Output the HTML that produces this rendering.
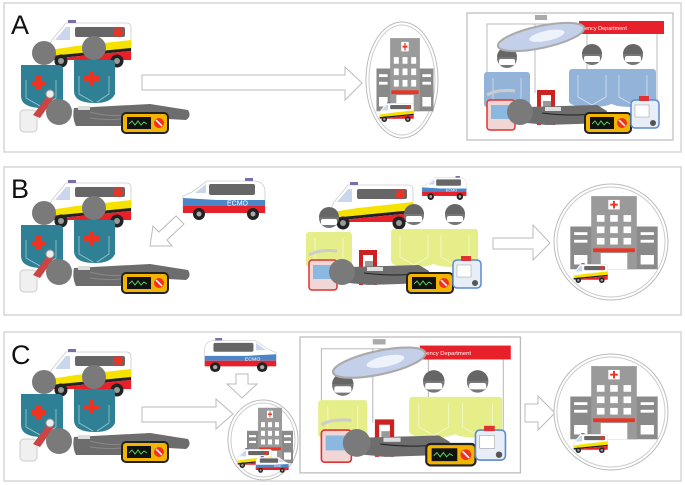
<!DOCTYPE html>
<html><head><meta charset="utf-8"><style>
html,body{margin:0;padding:0;background:#fff;}
svg{display:block;font-family:"Liberation Sans",sans-serif;}
</style></head><body>
<svg width="685" height="485" viewBox="0 0 685 485" xmlns="http://www.w3.org/2000/svg">
<defs>
  <g id="amb">
    <path d="M6 20 L20 3 L80 3 Q85 3 85 8 L85 38 L4 38 L4 24 Z" fill="#fff" stroke="#ccc" stroke-width="0.8"/>
    <path d="M9 20 L20 7 L24 7 L24 20 Z" fill="#c9d6ec"/>
    <rect x="29" y="7" width="50" height="10" rx="2" fill="#666"/>
    <rect x="22" y="0" width="8" height="3" fill="#7b6fa8"/>
    <g stroke="#e32" stroke-width="2"><line x1="72" y1="7" x2="72" y2="17"/><line x1="67" y1="12" x2="77" y2="12"/><line x1="68" y1="8" x2="76" y2="16"/><line x1="76" y1="8" x2="68" y2="16"/></g>
    <path d="M4 30 L30 26 L85 20 L85 28 L4 36 Z" fill="#f6e200"/>
    <path d="M4 36 L85 28 L85 31 L4 39 Z" fill="#222"/>
    <path d="M4 39 L85 31 L85 40 L4 40 Z" fill="#e8202a"/>
    <circle cx="15" cy="41" r="6.5" fill="#222"/><circle cx="15" cy="41" r="3" fill="#999"/>
    <circle cx="71" cy="41" r="6.5" fill="#222"/><circle cx="71" cy="41" r="3" fill="#999"/>
  </g>
  <g id="ecmobody">
    <path d="M2 14 Q2 4 12 3 L60 3 L75 14 L84 18 L84 34 L2 34 Z" fill="#fff" stroke="#ccc" stroke-width="0.8"/>
    <rect x="12" y="6" width="46" height="11" rx="2" fill="#666"/>
    <path d="M61 6 L72 15 L61 15 Z" fill="#c9d6ec"/>
    <rect x="14" y="0" width="8" height="3" fill="#7b6fa8"/>
    <path d="M2 28 L2 22 L50 22 L84 20 L84 28 Z" fill="#4a86c8"/>
    <rect x="2" y="28" width="82" height="7" fill="#e8202a"/>
    <circle cx="14" cy="36" r="6" fill="#222"/><circle cx="14" cy="36" r="2.5" fill="#aaa"/>
    <circle cx="68" cy="36" r="6" fill="#222"/><circle cx="68" cy="36" r="2.5" fill="#aaa"/>
  </g>
  <g id="ecmo">
    <use href="#ecmobody"/>
    <text x="48" y="27.5" font-size="6" fill="#fff">ECMO</text>
  </g>
  <g id="ecmoL">
    <g transform="translate(86 0) scale(-1 1)"><use href="#ecmobody"/></g>
    <text x="46" y="27.5" font-size="7" fill="#fff">ECMO</text>
  </g>
  <g id="mon">
    <rect x="0" y="0" width="46" height="20" rx="4" fill="#f3b400" stroke="#222" stroke-width="2"/>
    <rect x="5" y="4" width="24" height="12" fill="#111"/>
    <path d="M7 11 l3 -3 l3 4 l3 -4 l3 4 l3 -3 l3 2" stroke="#5c5" fill="none" stroke-width="1"/>
    <circle cx="37" cy="10" r="5" fill="#e32"/><line x1="34" y1="7" x2="40" y2="13" stroke="#fff" stroke-width="1.5"/>
  </g>
  <g id="scene">
    <use href="#amb" x="46" y="20"/>
    <rect x="20" y="110" width="17" height="22" rx="4" fill="#f0f0f0" stroke="#ccc"/>
    <path d="M21 65 h38 q4 0 4 5 v30 q-4 8 -20 8 q-22 0 -22 -12 v-26 q0 -5 0 -5z" fill="#2f7f95"/>
    <rect x="36" y="76" width="5" height="14" fill="#e32"/><rect x="31" y="81" width="15" height="5" fill="#e32"/>
    <path d="M26 80 v18 l14 8 M56 80 v18 l-12 8" stroke="#9cc" fill="none" stroke-width="0.8"/>
    <circle cx="44" cy="53" r="12" fill="#7a7a7a"/>
    <path d="M74 60 h38 q3 0 3 4 v30 q-4 9 -20 9 q-21 0 -21 -12 v-27 q0 -4 0 -4z" fill="#2f7f95"/>
    <rect x="89" y="71" width="5" height="14" fill="#e32"/><rect x="84" y="76" width="15" height="5" fill="#e32"/>
    <path d="M79 76 v18 l14 8 M109 76 v18 l-12 8" stroke="#9cc" fill="none" stroke-width="0.8"/>
    <circle cx="94" cy="48" r="12" fill="#7a7a7a"/>
    <path d="M33 115 L48 95 L54 98 L40 118 Z" fill="#c44"/>
    <circle cx="50" cy="94" r="4" fill="#eee" stroke="#999"/>
    <path d="M74 108 L150 104 L188 110 Q192 116 186 120 L150 118 L120 126 L76 126 Q72 118 74 108 Z" fill="#6d6d6d"/>
    <path d="M90 112 q20 6 45 2 M90 118 q25 4 50 -2" stroke="#888" fill="none" stroke-width="1"/>
    <rect x="78" y="106" width="12" height="4" fill="#ddd"/>
    <circle cx="59" cy="112" r="13" fill="#7a7a7a"/>
    <use href="#mon" x="122" y="113"/>
  </g>
  <g id="staff">
    <path d="M-20 14 h40 q3 0 3 4 v28 q-4 6 -23 6 q-23 0 -23 -6 v-28 q0 -4 3 -4z" fill="currentColor"/>
    <path d="M-14 20 v22 l14 8 l14 -8 v-22" stroke="#fff" stroke-opacity="0.6" fill="none" stroke-width="0.8"/>
    <circle cx="0" cy="0" r="10" fill="#777"/>
    <path d="M-10 -1 a10 10 0 0 1 20 0" fill="#666"/>
    <rect x="-8" y="1" width="16" height="6" rx="2" fill="#fff"/>
  </g>
  <g id="edc">
    <use href="#staff" x="40" y="45"/>
    <use href="#staff" x="125" y="42"/>
    <use href="#staff" x="166" y="42"/>
    <path d="M20 82 q10 -6 28 -4" stroke="#ccc" stroke-width="3" fill="none"/>
    <rect x="20" y="87" width="28" height="30" rx="3" fill="#f1d6d6" stroke="#d33" stroke-width="1.5"/>
    <rect x="24" y="92" width="18" height="14" fill="#8ab8e0"/>
    <rect x="70" y="77" width="18" height="35" fill="#c22"/><rect x="74" y="82" width="10" height="30" fill="#fff"/>
    <rect x="76" y="88" width="8" height="10" fill="#999"/>
    <path d="M60 94 L130 92 L140 98 L138 110 L80 112 L60 110 Z" fill="#6d6d6d"/>
    <path d="M75 100 q30 4 60 0" stroke="#222" fill="none" stroke-width="1"/>
    <rect x="78" y="94" width="16" height="4" fill="#ddd"/>
    <circle cx="53" cy="99" r="13" fill="#7a7a7a"/>
    <use href="#mon" x="118" y="100"/>
    <rect x="164" y="87" width="28" height="28" rx="4" fill="#e8eef8" stroke="#5a8ad0" stroke-width="1.5"/>
    <rect x="172" y="83" width="10" height="5" fill="#d33"/>
    <rect x="168" y="92" width="14" height="12" fill="#fff" stroke="#999" stroke-width="0.5"/>
    <circle cx="186" cy="110" r="3" fill="#555"/>
  </g>
  <g id="ed">
    <rect x="0" y="0" width="206" height="127" fill="#fff" stroke="#bbb" stroke-width="1.2"/>
    <g stroke="#bbb" stroke-width="1" fill="none"><path d="M20 90 V11 H190 V90 M68 11 V80 M120 11 V80"/></g>
    <rect x="112" y="8" width="85" height="13" fill="#e8202a"/>
    <text x="118" y="17" font-size="5.5" fill="#fff">ency Department</text>
    <use href="#edc"/>
    <g transform="translate(74 24) rotate(-12)"><ellipse rx="44" ry="11" fill="#c4cfe9" stroke="#aaa" stroke-width="2"/><ellipse cx="6" cy="0" rx="18" ry="5" fill="#eef2fb"/></g>
    <rect x="68" y="2" width="12" height="5" fill="#aaa"/>
  </g>
  <g id="hosp">
    <rect x="-46" y="-10" width="92" height="45" fill="#8a8a8a"/>
    <rect x="-24" y="-42" width="48" height="77" fill="#9a9a9a"/>
    <g fill="#fff">
      <rect x="-18" y="-22" width="8" height="7"/><rect x="-4" y="-22" width="8" height="7"/><rect x="10" y="-22" width="8" height="7"/>
      <rect x="-18" y="-10" width="8" height="7"/><rect x="-4" y="-10" width="8" height="7"/><rect x="10" y="-10" width="8" height="7"/>
      <rect x="-18" y="2" width="8" height="7"/><rect x="-4" y="2" width="8" height="7"/><rect x="10" y="2" width="8" height="7"/>
      <rect x="-42" y="-4" width="14" height="3"/><rect x="-42" y="4" width="14" height="3"/><rect x="-42" y="20" width="14" height="10"/>
      <rect x="28" y="-4" width="14" height="3"/><rect x="28" y="4" width="14" height="3"/><rect x="28" y="20" width="14" height="10"/>
      <rect x="-6" y="-38" width="12" height="10"/>
      <rect x="-14" y="18" width="28" height="17"/>
    </g>
    <rect x="-1" y="-37" width="2" height="8" fill="#e32"/><rect x="-4" y="-34" width="8" height="2" fill="#e32"/>
    <rect x="-22" y="13" width="44" height="4" fill="#e32"/>
  </g>
  <g id="miniamb">
    <use href="#amb" transform="scale(0.42,0.42)"/>
  </g>
</defs>

<rect x="4" y="3" width="677" height="149" fill="#fff" stroke="#d6d6d6" stroke-width="1.5"/>
<rect x="4" y="167" width="677" height="148" fill="#fff" stroke="#d6d6d6" stroke-width="1.5"/>
<rect x="4" y="332" width="677" height="149" fill="#fff" stroke="#d6d6d6" stroke-width="1.5"/>

<text x="11" y="34" font-size="27" fill="#111">A</text>
<text x="11" y="198" font-size="27" fill="#111">B</text>
<text x="11" y="364" font-size="27" fill="#111">C</text>

<!-- Panel A -->
<use href="#scene"/>
<path d="M142 75 H345 V67 L362 83 L345 100 V90 H142 Z" fill="#fff" stroke="#bbb" stroke-width="1"/>
<ellipse cx="402" cy="80" rx="36" ry="58" fill="#fff" stroke="#bbb"/>
<ellipse cx="402" cy="80" rx="33" ry="55" fill="none" stroke="#ccc"/>
<g transform="translate(405 78) scale(0.62 0.95)"><use href="#hosp"/></g>
<g transform="translate(378 102)"><use href="#miniamb"/></g>
<g transform="translate(467 13)"><use href="#ed" style="color:#93b4d8"/></g>

<!-- Panel B -->
<g transform="translate(0 160)"><use href="#scene"/></g>
<use href="#ecmoL" x="181" y="178"/>
<path d="M150 246 L153 226 L159 232 L176 216 L184 224 L167 240 L172 246 Z" fill="#fff" stroke="#bbb"/>
<use href="#amb" x="328" y="182"/>
<g transform="translate(421 176) scale(0.54 0.57)"><use href="#ecmoL"/></g>
<g transform="translate(289 173)"><use href="#edc" style="color:#e6ee8a"/></g>
<path d="M493 238 H533 V225 L550 243 L533 260 V249 H493 Z" fill="#fff" stroke="#bbb"/>
<ellipse cx="611" cy="242" rx="57" ry="58" fill="#fff" stroke="#bbb"/>
<ellipse cx="611" cy="242" rx="54" ry="55" fill="none" stroke="#ccc"/>
<g transform="translate(614 236) scale(0.95 0.95)"><use href="#hosp"/></g>
<g transform="translate(572 263)"><use href="#miniamb"/></g>

<!-- Panel C -->
<g transform="translate(0 329)"><use href="#scene"/></g>
<g transform="translate(203 338) scale(0.87 0.81)"><use href="#ecmo"/></g>
<path d="M236 374 L248 374 L248 384 L257 384 L242 398 L227 384 L236 384 Z" fill="#fff" stroke="#bbb"/>
<path d="M142 407 H216 V399 L233 414 L216 429 V422 H142 Z" fill="#fff" stroke="#bbb"/>
<ellipse cx="263" cy="440" rx="35" ry="40" fill="#fff" stroke="#bbb"/>
<ellipse cx="263" cy="440" rx="32" ry="37" fill="none" stroke="#ccc"/>
<g transform="translate(270 438) scale(0.5 0.72)"><use href="#hosp"/></g>
<g transform="translate(236 448)"><use href="#miniamb"/></g>
<g transform="translate(255 456) scale(0.4 0.4)"><use href="#ecmo"/></g>
<g transform="translate(300 337) scale(1.07 1.07)"><use href="#ed" style="color:#e6ee8a"/></g>
<path d="M525 404 H538 V396 L555 413 L538 430 V422 H525 Z" fill="#fff" stroke="#bbb"/>
<ellipse cx="611" cy="412" rx="57" ry="58" fill="#fff" stroke="#bbb"/>
<ellipse cx="611" cy="412" rx="54" ry="55" fill="none" stroke="#ccc"/>
<g transform="translate(614 406) scale(0.95 0.95)"><use href="#hosp"/></g>
<g transform="translate(572 433)"><use href="#miniamb"/></g>
</svg>
</body></html>
